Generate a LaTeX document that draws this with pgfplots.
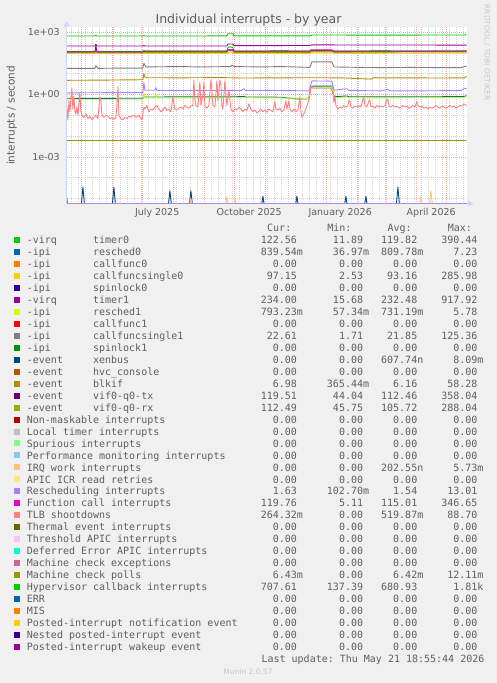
\documentclass[border=0pt]{standalone}
\usepackage{pgfplots}
\pgfplotsset{compat=1.18}
\usepackage{fontspec}
\setmainfont{DejaVu Sans}
\setmonofont{DejaVu Sans Mono}
\definecolor{c01}{HTML}{00CC00}\definecolor{c02}{HTML}{0066B3}\definecolor{c03}{HTML}{FF8000}
\definecolor{c04}{HTML}{FFCC00}\definecolor{c05}{HTML}{330099}\definecolor{c06}{HTML}{990099}
\definecolor{c07}{HTML}{CCFF00}\definecolor{c08}{HTML}{FF0000}\definecolor{c09}{HTML}{808080}
\definecolor{c10}{HTML}{008F00}\definecolor{c11}{HTML}{00487D}\definecolor{c12}{HTML}{B35A00}
\definecolor{c13}{HTML}{B38F00}\definecolor{c14}{HTML}{6B006B}\definecolor{c15}{HTML}{8FB300}
\definecolor{c16}{HTML}{B30000}\definecolor{c17}{HTML}{BEBEBE}\definecolor{c18}{HTML}{80FF80}
\definecolor{c19}{HTML}{80C9FF}\definecolor{c20}{HTML}{FFC080}\definecolor{c21}{HTML}{FFE680}
\definecolor{c22}{HTML}{AA80FF}\definecolor{c23}{HTML}{EE00CC}\definecolor{c24}{HTML}{FF8080}
\definecolor{c25}{HTML}{666600}\definecolor{c26}{HTML}{FFBFFF}\definecolor{c27}{HTML}{00FFCC}
\definecolor{c28}{HTML}{CC6699}\definecolor{c29}{HTML}{999900}\definecolor{c30}{HTML}{00CC00}
\definecolor{c31}{HTML}{0066B3}\definecolor{c32}{HTML}{FF8000}\definecolor{c33}{HTML}{FFCC00}
\definecolor{c34}{HTML}{330099}\definecolor{c35}{HTML}{990099}
\definecolor{fontc}{HTML}{5E5E5E}
\definecolor{axisc}{HTML}{CFD6F8}
\definecolor{bgc}{HTML}{F0F0F0}
\definecolor{mgrid}{HTML}{F2A6A6}
\definecolor{gridc}{HTML}{D2D2D2}
\definecolor{lav}{HTML}{B08CD8}
\definecolor{faint}{HTML}{C8C8C8}
\newcommand{\ph}{\phantom{0}}
\tikzset{
  lt/.style={anchor=base west, inner sep=0pt, font={\fontsize{10}{12}\selectfont\ttfamily}, text=fontc},
  lv/.style={anchor=base east, inner sep=0pt, font={\fontsize{10}{12}\selectfont\ttfamily}, text=fontc}}
\newcommand{\lrow}[8]{%
  \pgfmathsetmacro{\yc}{240+11.97*#1}%
  \fill[#2] (14,\yc-3) rectangle (20,\yc+3);%
  \node[lt] at (26.7,\yc+3.6) {#3};%
  \node[lt] at (92.9,\yc+3.6) {#4};%
  \node[lv] at (303.1,\yc+3.6) {#5};%
  \node[lv] at (369.3,\yc+3.6) {#6};%
  \node[lv] at (423.5,\yc+3.6) {#7};%
  \node[lv] at (483.7,\yc+3.6) {#8};%
}
\newcommand{\zrow}[4]{\lrow{#1}{#2}{#3}{#4}{0.00\ph}{0.00\ph}{0.00\ph}{0.00\ph}}
\begin{document}
\begin{tikzpicture}
\fill[bgc] (0pt,0pt) rectangle (497pt,-683pt);
\path[use as bounding box] (0pt,0pt) rectangle (497pt,-683pt);
\begin{axis}[
  at={(66.7pt,-203.5pt)}, anchor=south west,
  width=400pt, height=176.2pt, scale only axis,
  xmin=-14.2, xmax=385.8,
  ymode=log, ymin=5.85e-6, ymax=1683,
  axis line style={draw=none},
  tick style={draw=none},
  major tick length=0pt, minor tick length=0pt,
  xtick={76.3,168.3,259.3,350.3},
  xticklabels={July 2025,October 2025,January 2026,April 2026},
  ytick={1e-3,1,1e3},
  yticklabels={1e-03,1e+00,1e+03},
  minor ytick={1e-5,1e-4,1e-2,1e-1,10,100},
  minor xtick={-10,-3,...,385},
  extra x ticks={0,31,61,92,123,153,184,214,245,276,304,335,365},
  extra x tick labels={},
  extra x tick style={grid=major, major grid style={mgrid, dash pattern=on 1pt off 1pt}},
  xmajorgrids=false, ymajorgrids=true, yminorgrids=true, xminorgrids=true,
  major grid style={mgrid, dash pattern=on 1pt off 1pt, line width=0.8pt},
  minor grid style={gridc, dash pattern=on 1pt off 1pt, line width=0.8pt},
  ticklabel style={font=\fontsize{9.5}{10}\selectfont, text=fontc},
  xticklabel style={anchor=base, yshift=-12.3pt, inner sep=0pt},
  yticklabel style={anchor=east, xshift=-6.7pt, inner sep=0pt},
  axis background/.style={fill=white},
  every axis plot/.append style={line width=0.9pt, line join=round, mark=none},
]
% 1 timer0
\addplot[c01] coordinates {(-14.2,118)(14,118)(15,135)(16,118)(62,118)(63,130)(64,124)(100,125)(140,126)(146,126)(147,180)(149,195)(152,180)(153,126)(200,127)(229,126)(231,131)(252,131)(253,126)(300,127)(340,126)(385.8,126)};
% 2 resched0
\addplot[c02] coordinates {(-14.2,0.66)(20,0.65)(40,0.66)(62,0.66)(63,0.95)(64,0.76)(74,0.76)(75,0.95)(76,0.76)(100,0.77)(150,0.77)(163,0.8)(165,0.76)(200,0.74)(215,0.62)(226,0.62)(228,0.7)(230,2.5)(251,2.55)(253,0.78)(266,0.85)(268,0.78)(300,0.77)(340,0.77)(383,0.8)(385.8,0.88)};
% 4 callfuncsingle0
\addplot[c04] coordinates {(-14.2,90)(15,92)(16,100)(17,90)(62,90)(63,95)(100,93)(147,95)(148,110)(151,110)(152,93)(229,92)(231,100)(251,100)(253,94)(300,95)(385.8,97)};
% 6 timer1
\addplot[c06] coordinates {(-14.2,212)(14,212)(15,260)(16,212)(62,212)(63,225)(64,212)(140,213)(146,213)(147,265)(152,265)(153,222)(229,225)(231,240)(300,238)(385.8,236)};
% 7 resched1
\addplot[c07] coordinates {(-14.2,0.56)(40,0.56)(62,0.56)(63,1.2)(64,0.68)(74,0.68)(75,1.1)(76,0.68)(120,0.69)(163,0.7)(200,0.68)(228,0.65)(230,2.15)(251,2.2)(253,0.7)(266,0.75)(268,0.7)(300,0.69)(340,0.7)(383,0.72)(385.8,0.8)};
% 9 callfuncsingle1
\addplot[c09] coordinates {(-14.2,18)(14,18)(15,24)(17,18)(40,18.5)(62,18.5)(63,32)(65,21)(80,21.5)(100,22)(120,21)(150,22)(151,26)(153,22)(180,21)(200,22)(229,20)(231,37)(251,37)(253,21)(280,20)(300,19.5)(330,20)(360,19.5)(380,19.5)(385.8,23)};
% 11 xenbus
\addplot[c11] coordinates {(-14.2,1.2e-5)(-13,3e-6)(0,3e-6)(2,3.6e-5)(4,3e-6)(31,3e-6)(33,3.6e-5)(35,3e-6)(87,3e-6)(89,2.4e-5)(91,3e-6)(108,3e-6)(110,2.4e-5)(112,3e-6)(180,3e-6)(182,1.3e-5)(184,3e-6)(214,3e-6)(216,1.3e-5)(218,3e-6)(263,3e-6)(265,1.3e-5)(267,3e-6)(283,3e-6)(285,1.3e-5)(287,3e-6)(315,3e-6)(317,3.6e-5)(319,3e-6)(385.8,3e-6)};
% 13 blkif
\addplot[c13] coordinates {(-14.2,4.8)(20,4.9)(40,5.0)(60,5.1)(62,5.2)(63,10)(64,7)(66,6.4)(100,6.3)(140,6.5)(160,6.2)(200,6.3)(230,6.4)(260,6.3)(290,5.5)(292,6.3)(320,6.3)(360,6.2)(383,6.3)(385.8,7.5)};
% 14 vif tx
\addplot[c14] coordinates {(-14.2,108)(14,108)(15,210)(16,108)(62,108)(63,118)(64,112)(146,112)(147,140)(152,140)(153,112)(229,112)(231,125)(251,125)(253,113)(385.8,118)};
% 15 vif rx
\addplot[c15] coordinates {(-14.2,100)(15,102)(16,130)(17,100)(62,100)(63,110)(64,106)(146,106)(147,130)(152,130)(153,106)(229,106)(231,118)(251,118)(253,107)(385.8,112)};
% 20 IRQ work
\addplot[c20] coordinates {(-14.2,3e-6)(108,3e-6)(110,1e-5)(112,3e-6)(144,3e-6)(146,1.2e-5)(148,3e-6)(152,3e-6)(154,1.1e-5)(156,3e-6)(338,3e-6)(340,1.3e-5)(342,3e-6)(348,3e-6)(350,2.3e-5)(352,3e-6)(385.8,3e-6)};
% 22 Rescheduling
\addplot[c22] coordinates {(-14.2,1.2)(20,1.22)(40,1.25)(62,1.25)(63,3.8)(64,1.6)(74,1.6)(75,2.1)(76,1.55)(120,1.55)(160,1.55)(163,1.9)(165,1.55)(200,1.55)(228,1.5)(231,4.5)(251,4.4)(253,1.6)(266,1.9)(268,1.55)(300,1.5)(307,1.8)(309,1.5)(340,1.5)(380,1.55)(384,2.0)(385.8,1.9)};
% 23 Function call
\addplot[c23] coordinates {(-14.2,110)(14,110)(15,150)(16,110)(62,110)(63,120)(64,113)(146,113)(147,135)(152,135)(153,114)(229,114)(230,140)(251,140)(252,115)(300,116)(385.8,120)};
% 24 TLB shootdowns
\addplot[c24] coordinates {(-14.2,0.3)(-13,0.06)(-12,0.5)(-11,0.15)(-10,0.65)(-9,2.0)(-8,0.2)(-7,0.8)(-6,0.15)(-5,0.12)(-4,0.25)(-3,0.1)(-1,1.3)(0,0.15)(1,0.1)(3,0.08)(5,0.12)(7,0.07)(9,0.09)(11,0.06)(13,0.08)(15,0.1)(17,0.07)(19,0.78)(20,0.5)(21,0.1)(23,0.08)(25,0.1)(27,0.09)(29,0.07)(31,0.08)(33,0.065)(35,0.08)(36,0.3)(37,2.4)(38,0.1)(40,0.07)(42,0.06)(44,0.08)(46,0.07)(48,0.09)(50,0.08)(52,0.1)(54,0.09)(56,0.08)(58,0.1)(60,0.07)(61,0.06)(63,0.25)(64,0.2)(66,0.3)(68,0.15)(70,0.2)(72,0.18)(74,0.25)(76,0.3)(78,0.2)(80,0.15)(82,0.18)(84,0.25)(86,0.17)(88,0.2)(90,0.15)(92,0.78)(94,0.2)(96,0.18)(98,0.22)(100,0.25)(102,0.2)(104,0.3)(106,0.25)(108,0.22)(110,0.28)(112,0.3)(113,5.0)(114,0.6)(115,0.3)(117,0.25)(119,4.0)(120,0.3)(122,1.0)(123,3.8)(124,0.3)(126,0.22)(128,0.3)(130,5.0)(131,1.5)(132,0.3)(134,0.25)(136,4.5)(137,0.5)(139,4.8)(140,3.0)(141,0.3)(142,0.2)(144,4.5)(145,1.0)(146,0.3)(148,1.7)(150,0.2)(152,0.15)(154,0.2)(156,0.18)(158,0.25)(160,0.2)(162,0.15)(164,0.2)(166,0.17)(168,0.35)(170,0.2)(172,0.15)(174,0.18)(176,0.13)(178,0.16)(180,0.2)(182,0.15)(184,0.18)(186,0.14)(188,0.2)(190,0.17)(192,0.15)(194,0.45)(195,0.2)(197,0.18)(199,0.22)(201,0.15)(203,0.18)(205,0.5)(206,0.2)(208,0.5)(209,0.2)(211,0.15)(213,0.2)(215,0.15)(217,0.18)(219,0.78)(220,0.15)(221,0.08)(223,0.12)(225,0.2)(227,0.4)(229,0.8)(230,2.5)(232,2.0)(250,2.0)(252,1.2)(253,0.4)(254,0.9)(255,0.3)(257,0.2)(259,0.25)(261,0.22)(263,0.3)(265,0.25)(267,0.28)(268,0.55)(269,0.45)(270,0.25)(272,0.22)(274,0.28)(276,0.25)(278,0.3)(280,0.25)(282,0.6)(283,0.7)(284,0.3)(286,0.25)(288,0.5)(289,0.55)(290,0.25)(292,0.28)(294,0.22)(296,0.3)(298,0.25)(300,0.28)(302,0.25)(304,0.3)(306,0.55)(307,0.6)(308,0.28)(310,0.25)(312,0.3)(314,0.25)(316,0.28)(318,0.22)(320,0.25)(322,0.3)(324,0.25)(326,0.28)(328,0.22)(330,0.25)(332,0.3)(334,0.25)(336,0.45)(337,0.3)(339,0.25)(341,0.28)(343,0.22)(345,0.25)(347,0.2)(349,0.25)(351,0.22)(353,0.25)(355,0.3)(357,0.25)(359,0.22)(361,0.28)(363,0.25)(365,0.22)(367,0.25)(369,0.3)(371,0.25)(373,0.28)(375,0.22)(377,0.25)(379,0.3)(381,0.28)(383,0.35)(385.8,0.3)};
% 29 Machine check polls
\addplot[c29] coordinates {(-14.2,6.42e-3)(385.8,6.42e-3)};
% 30 Hypervisor callback
\addplot[c30] coordinates {(-14.2,643)(14,643)(15,700)(16,643)(62,645)(63,680)(64,645)(146,648)(147,830)(152,830)(153,650)(229,650)(231,718)(300,712)(340,715)(383,720)(385.8,740)};
\end{axis}
\begin{scope}[x=1pt,y=-1pt]
% axes
\draw[axisc, line width=1pt] (66.7,203.5) -- (468,203.5);
\draw[axisc, line width=1pt] (66.7,203.5) -- (66.7,26);
\fill[axisc] (468,200.5) -- (473.5,203.5) -- (468,206.5) -- cycle;
\fill[axisc] (63.7,26.5) -- (66.7,21) -- (69.7,26.5) -- cycle;
\draw[lav, line width=1pt] (66.7,203.3) -- (466.7,203.3);
% title and labels
\node[anchor=base, inner sep=0pt, font=\fontsize{12.5}{14}\selectfont, text=fontc] at (248.5,23) {Individual interrupts - by year};
\node[rotate=90, inner sep=0pt, font=\fontsize{10.5}{12}\selectfont, text=fontc] at (11.7,115.4) {interrupts / second};
\node[rotate=-90, inner sep=0pt, font=\fontsize{7.4}{9}\selectfont, text=faint] at (487,52.5) {RRDTOOL / TOBI OETIKER};
% legend header
\node[lt] at (267.0,231.6) {Cur:};
\node[lt] at (327.2,231.6) {Min:};
\node[lt] at (387.4,231.6) {Avg:};
\node[lt] at (447.6,231.6) {Max:};
\lrow{0}{c01}{-virq}{timer0}{122.56\ph}{11.89\ph}{119.82\ph}{390.44\ph}
\lrow{1}{c02}{-ipi}{resched0}{839.54m}{36.97m}{809.78m}{7.23\ph}
\zrow{2}{c03}{-ipi}{callfunc0}
\lrow{3}{c04}{-ipi}{callfuncsingle0}{97.15\ph}{2.53\ph}{93.16\ph}{285.98\ph}
\zrow{4}{c05}{-ipi}{spinlock0}
\lrow{5}{c06}{-virq}{timer1}{234.00\ph}{15.68\ph}{232.48\ph}{917.92\ph}
\lrow{6}{c07}{-ipi}{resched1}{793.23m}{57.34m}{731.19m}{5.78\ph}
\zrow{7}{c08}{-ipi}{callfunc1}
\lrow{8}{c09}{-ipi}{callfuncsingle1}{22.61\ph}{1.71\ph}{21.85\ph}{125.36\ph}
\zrow{9}{c10}{-ipi}{spinlock1}
\lrow{10}{c11}{-event}{xenbus}{0.00\ph}{0.00\ph}{607.74n}{8.09m}
\zrow{11}{c12}{-event}{hvc\_console}
\lrow{12}{c13}{-event}{blkif}{6.98\ph}{365.44m}{6.16\ph}{58.28\ph}
\lrow{13}{c14}{-event}{vif0-q0-tx}{119.51\ph}{44.04\ph}{112.46\ph}{358.04\ph}
\lrow{14}{c15}{-event}{vif0-q0-rx}{112.49\ph}{45.75\ph}{105.72\ph}{288.04\ph}
\zrow{15}{c16}{Non-maskable interrupts}{}
\zrow{16}{c17}{Local timer interrupts}{}
\zrow{17}{c18}{Spurious interrupts}{}
\zrow{18}{c19}{Performance monitoring interrupts}{}
\lrow{19}{c20}{IRQ work interrupts}{}{0.00\ph}{0.00\ph}{202.55n}{5.73m}
\zrow{20}{c21}{APIC ICR read retries}{}
\lrow{21}{c22}{Rescheduling interrupts}{}{1.63\ph}{102.70m}{1.54\ph}{13.01\ph}
\lrow{22}{c23}{Function call interrupts}{}{119.76\ph}{5.11\ph}{115.01\ph}{346.65\ph}
\lrow{23}{c24}{TLB shootdowns}{}{264.32m}{0.00\ph}{519.87m}{88.70\ph}
\zrow{24}{c25}{Thermal event interrupts}{}
\zrow{25}{c26}{Threshold APIC interrupts}{}
\zrow{26}{c27}{Deferred Error APIC interrupts}{}
\zrow{27}{c28}{Machine check exceptions}{}
\lrow{28}{c29}{Machine check polls}{}{6.43m}{0.00\ph}{6.42m}{12.11m}
\lrow{29}{c30}{Hypervisor callback interrupts}{}{707.61\ph}{137.39\ph}{680.93\ph}{1.81k}
\zrow{30}{c31}{ERR}{}
\zrow{31}{c32}{MIS}{}
\zrow{32}{c33}{Posted-interrupt notification event}{}
\zrow{33}{c34}{Nested posted-interrupt event}{}
\zrow{34}{c35}{Posted-interrupt wakeup event}{}
\node[lt] at (261.4,662.6) {Last update: Thu May 21 18:55:44 2026};
\node[inner sep=0pt, font=\fontsize{7.5}{9}\selectfont, text=faint] at (248,672) {Munin 2.0.57};
\end{scope}
\end{tikzpicture}
\end{document}
